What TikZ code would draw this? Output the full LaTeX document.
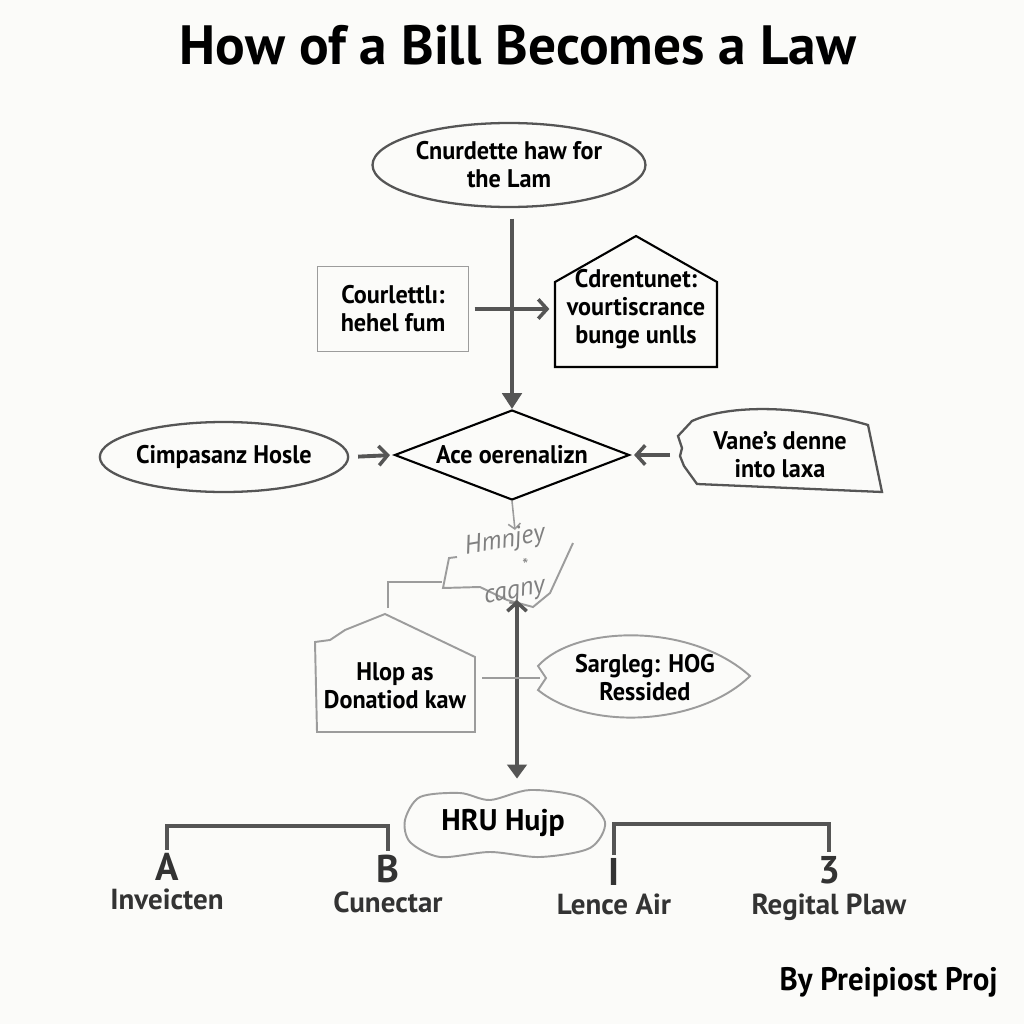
\documentclass[tikz,border=0pt]{standalone}
\usepackage{fontspec}
\setmainfont{PT Sans}
\newfontfamily\condfont[FakeStretch=0.95]{PT Sans}
\usetikzlibrary{arrows.meta,shapes.geometric,calc,positioning}

\definecolor{inkgray}{HTML}{555555}
\definecolor{linegray}{HTML}{9C9C9C}
\definecolor{paper}{HTML}{FBFBF9}

\tikzset{
  boxtext/.style={font=\condfont\bfseries\fontsize{14.5}{16}\selectfont, align=center, text=black, inner sep=0pt},
  darkline/.style={draw=inkgray, line width=1.3pt},
  paleline/.style={draw=linegray, line width=1.1pt},
  flowline/.style={draw=inkgray, line width=2.2pt},
  sidearrow/.style={flowline, -{Straight Barb[length=5pt,width=11pt,line width=2pt]}},
  scribtext/.style={font=\itshape\fontsize{15}{16}\selectfont, text=black!50, rotate=10, inner sep=0pt},
  bigletter/.style={font=\bfseries\fontsize{22}{24}\selectfont, text=black!80, inner sep=1pt},
  bottomlabel/.style={font=\bfseries\fontsize{16.5}{18}\selectfont, text=black!80},
}

\begin{document}
\begin{tikzpicture}[x=0.02cm, y=-0.02cm]
  % page
  \fill[paper] (0,0) rectangle (1024,1024);
  % title
  \node[font=\bfseries\fontsize{31.5}{34}\selectfont] (title) at (518,45) {How of a Bill Becomes a Law};

  % top ellipse
  \node[ellipse, darkline, minimum width=5.46cm, minimum height=1.68cm, boxtext] (top) at (509,165) {Cnurdette haw for\\the Lam};

  % left box and house
  \node[rectangle, paleline, minimum width=3.02cm, minimum height=1.7cm, boxtext] (court) at (393,309) {Courlettlı:\\hehel fum};
  \node[minimum width=3.24cm, boxtext] (cdr) at (636,309) {Cdrentunet:\\vourtiscrance\\bunge unlls};
  \draw[line width=1.2pt] (555,367) -- (555,282) -- (636,236) -- (717,282) -- (717,367) -- cycle;

  % diamond
  \node[diamond, aspect=2.6, draw=black, line width=1.2pt, minimum width=4.7cm, minimum height=1.8cm, boxtext] (dia) at (512,455) {Ace oerenalizn};

  % side shapes of the diamond
  \node[ellipse, darkline, minimum width=4.88cm, minimum height=1.4cm, boxtext] (cimp) at (224,457) {Cimpasanz Hosle};
  \node[minimum width=4.1cm, boxtext] (vane) at (780,455) {Vane’s denne\\into laxa};
  \draw[darkline] (682,448) -- (678,436) -- (692,421) .. controls (730,404) and (800,405) .. (868,425)
    -- (882,492) -- (697,484) -- (684,466) -- (680,456) -- cycle;

  % arrows into the diamond
  \draw[flowline, -{Triangle[length=9pt,width=11pt]}, shorten <=6pt] (top.south -| dia.north) -- (dia.north);
  \draw[sidearrow, shorten <=3pt, shorten >=3pt] (court.east) -- (court.east -| cdr.west);
  \draw[sidearrow, shorten <=5pt, shorten >=2pt] (cimp.east) -- (dia.west);
  \draw[sidearrow, shorten <=4pt, shorten >=2pt] (vane.west) -- (dia.east);

  % scribbled note below the diamond
  \coordinate (scribtop) at (515,530);
  \coordinate (scribbot) at (517,600);
  \coordinate (hlopneck) at (388,608);
  \coordinate (scribleft) at (442,582);
  \draw[paleline, line width=0.9pt, -{Straight Barb[length=3pt,width=7pt]}] (dia.south) -- (scribtop);
  \draw[paleline] (457,557) -- (449,558) -- (443,588) -- (480,587) -- (507,600) -- (533,607)
    -- (550,593) -- (562,567) -- (573,543);
  \node[scribtext] (scriba) at (505,541) {Hmnjey};
  \node[scribtext, font=\fontsize{10}{10}\selectfont] (scribb) at (526,565) {*};
  \node[scribtext] (scribc) at (515,594) {cagny};
  \draw[paleline] (hlopneck) |- (scribleft);

  % vertical double arrow
  \node[boxtext, font=\bfseries\fontsize{17}{18}\selectfont, minimum width=4.06cm, minimum height=1.34cm] (cloud) at (503,823) {HRU Hujp};
  \draw[flowline, {Straight Barb[length=5pt,width=11pt,line width=2pt]}-{Triangle[length=8pt,width=11pt]}, shorten >=6pt]
    (scribbot) -- (scribbot |- cloud.north);
  \draw[paleline] plot[smooth cycle] coordinates {(405,820) (420,797) (460,793) (490,800) (530,790) (580,797)
    (605,822) (590,848) (540,857) (490,852) (440,857) (410,842)};

  % lower left house and lens
  \node[minimum width=3.2cm, boxtext] (hlop) at (395,686) {Hlop as\\Donatiod kaw};
  \draw[paleline] (317,732) -- (315,642) -- (330,640) -- (345,630) -- (385,614) -- (475,657) -- (475,732) -- cycle;
  \node[minimum width=4.2cm, boxtext] (sarg) at (645,678) {Sargleg: HOG\\Ressided};
  \draw[paleline] (546,678) -- (538,666) .. controls (575,625) and (690,622) .. (750,676)
    .. controls (700,725) and (590,732) .. (538,690) -- cycle;
  \draw[paleline, line width=1.6pt, shorten <=4pt] (hlop.east |- sarg.west) -- (sarg.west);

  % bottom labels
  \foreach \nm/\x/\y/\ty/\ltr/\lbl in {la/167/867/899/A/Inveicten, lb/388/869/902/B/Cunectar,
                                      lc/614/872/904/I/Lence Air, ld/829/870/907/3/Regital Plaw} {
    \node[bigletter] (\nm) at (\x,\y) {\ltr};
    \node[bottomlabel] (\nm txt) at (\x,\ty) {\lbl};
  }
  \draw[flowline, shorten <=1pt, shorten >=1pt] (la.north) -- (la.north |- 0,826) -| (lb.north);
  \draw[flowline, shorten <=1pt, shorten >=1pt] (lc.north) -- (lc.north |- 0,824) -| (ld.north);

  % byline
  \node[anchor=east, inner sep=0pt, font=\condfont\bfseries\fontsize{18.5}{20}\selectfont] (byline) at (998,982) {By Preipiost Proj};
\end{tikzpicture}
\end{document}
